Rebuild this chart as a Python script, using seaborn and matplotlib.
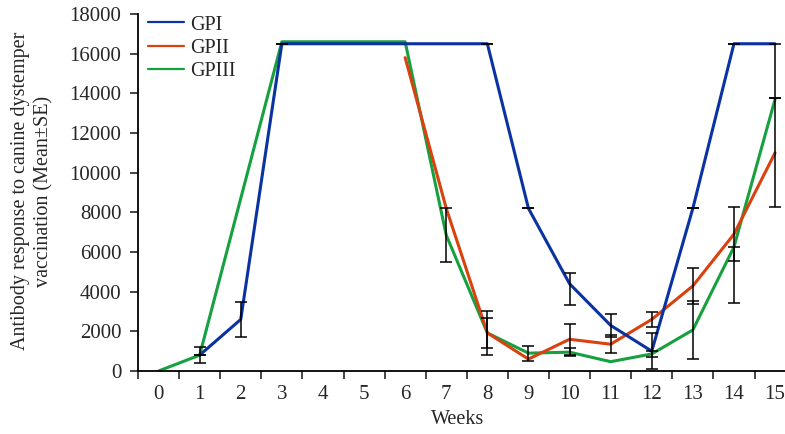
import numpy as np
import pandas as pd
import matplotlib
matplotlib.use("Agg")
import matplotlib.pyplot as plt
import seaborn as sns

nan = np.nan

# Weeks after vaccination
weeks = list(range(16))
groups = ['GPI', 'GPII', 'GPIII']

# Mean antibody response per group
gp1_mean = [nan, 800, 2600, 16500, 16500, 16500, 16500, 16500, 16500,
            8200, 4400, 2300, 1000, 8200, 16500, 16500]
gp2_mean = [nan, nan, nan, nan, nan, nan, 15800, 8200, 1920,
            600, 1600, 1350, 2600, 4290, 6900, 11000]
gp3_mean = [0, 800, 8700, 16600, 16600, 16600, 16600, 6850, 1920,
            900, 950, 470, 860, 2070, 6250, 13700]

# SE below / above the mean (nan = no bar drawn)
gp1_se_lo = [nan, 400, 880, 0, nan, nan, nan, nan, 0, 0, 1060, 590, 900, 0, 0, 2750]
gp1_se_hi = [nan, 400, 880, 0, nan, nan, nan, nan, 0, 0, 560, 590, 900, 0, 0, 0]
gp2_se_lo = [nan, nan, nan, nan, nan, nan, nan, nan, 1100, nan, 780, 450, 400, 900, 1370, 2750]
gp2_se_hi = [nan, nan, nan, nan, nan, nan, nan, nan, 1100, nan, 780, 450, 400, 900, 1370, 2750]
gp3_se_lo = [nan, 0, nan, nan, nan, nan, nan, 1350, 770, 380, 200, nan, 140, 1470, 2810, nan]
gp3_se_hi = [nan, 0, nan, nan, nan, nan, nan, 1350, 770, 380, 200, nan, 140, 1470, 0, nan]

colors = {'GPI': '#0a32a0', 'GPII': '#d9410e', 'GPIII': '#17a040'}

df = pd.DataFrame({
    'week': weeks * 3,
    'group': np.repeat(groups, len(weeks)),
    'value': gp1_mean + gp2_mean + gp3_mean,
    'se_lo': gp1_se_lo + gp2_se_lo + gp3_se_lo,
    'se_hi': gp1_se_hi + gp2_se_hi + gp3_se_hi,
})

sns.set_style('ticks')
plt.rcParams['font.family'] = ['Liberation Serif', 'DejaVu Serif']
plt.rcParams['font.size'] = 14.5

fig = plt.figure(figsize=(7.85, 4.34), dpi=100)
ax = fig.add_axes([138 / 785, 63 / 434, 16 * 41.1 / 785, 357 / 434])

# draw green first so GPI ends up on top
for g in ['GPIII', 'GPII', 'GPI']:
    sub = df[df['group'] == g].dropna(subset=['value'])
    sns.lineplot(data=sub, x='week', y='value', color=colors[g], lw=2.2,
                 ax=ax, label=g, legend=False)

for g in groups:
    eb = df[df['group'] == g].dropna(subset=['value', 'se_lo'])
    ax.errorbar(eb['week'], eb['value'], yerr=[eb['se_lo'], eb['se_hi']],
                fmt='none', ecolor='black', elinewidth=1.1, capsize=4.4,
                capthick=1.1, zorder=5)

ax.set_xlim(-0.5, 15.5)
ax.set_ylim(0, 18000)
ax.set_xticks(weeks)
ax.set_xticks(np.arange(-0.5, 15.6, 1), minor=True)
ax.tick_params(axis='x', which='major', length=0, pad=10, labelsize=15)
ax.tick_params(axis='x', which='minor', length=6, width=1.2, direction='out')
ax.set_yticks(range(0, 18001, 2000))
ax.tick_params(axis='y', length=6, width=1.2, pad=6, labelsize=15)

for side in ['top', 'right']:
    ax.spines[side].set_visible(False)
for side in ['left', 'bottom']:
    ax.spines[side].set_linewidth(1.3)
    ax.spines[side].set_color('black')

ax.set_xlabel('Weeks', fontsize=14.5)
ax.xaxis.set_label_coords((458 - 138) / 657.6, -0.11)
ax.set_ylabel('')
fig.text(32 / 785, 1 - 191 / 434,
         'Antibody response to canine dystemper\nvaccination (Mean\u00b1SE)',
         rotation=90, ha='center', va='center', multialignment='center',
         fontsize=14.5, linespacing=1.3)

handles = {l.get_label(): l for l in ax.get_lines() if l.get_label() in groups}
leg = ax.legend([handles[g] for g in groups], groups, loc='upper left',
                bbox_to_anchor=(0.015, 0.996), frameon=False, borderaxespad=0,
                borderpad=0, handlelength=1.8, handletextpad=0.3,
                labelspacing=0.2, fontsize=14.5)
for line in leg.get_lines():
    line.set_linewidth(1.6)

fig.savefig('out.png', dpi=100)
